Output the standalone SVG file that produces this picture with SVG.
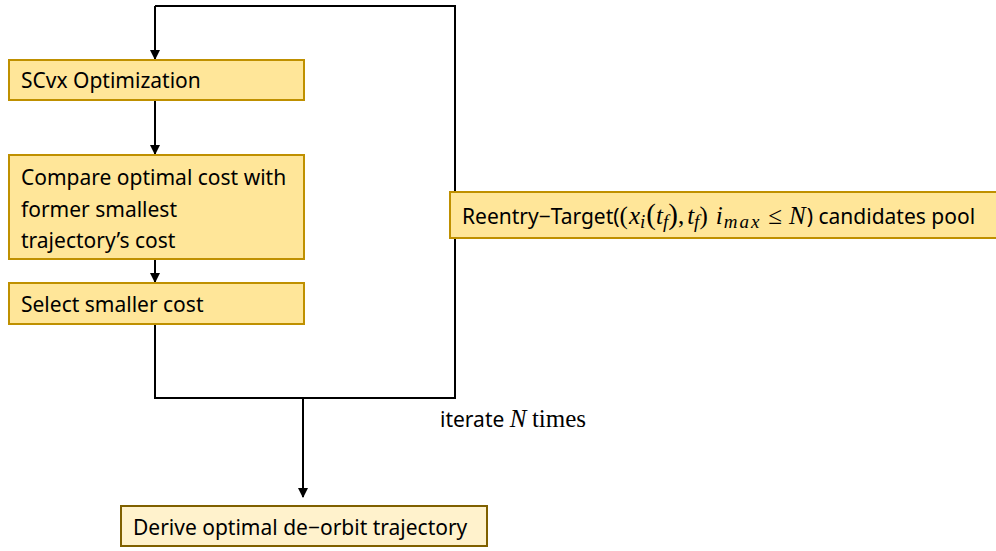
<svg xmlns="http://www.w3.org/2000/svg" width="996" height="551" viewBox="0 0 996 551">
<defs>
<style>
.box{fill:#FFE699;stroke:#BF9000;stroke-width:2}
.box2{fill:#FFF2CC;stroke:#7F6000;stroke-width:2}
.t{font-family:"Noto Sans","Liberation Sans",sans-serif;font-size:21px;fill:#000}
.m{font-family:"Liberation Serif",serif;font-style:italic;font-size:25px}
.s{font-family:"Liberation Serif",serif;font-style:italic;font-size:19px}
.mr{font-family:"Liberation Serif",serif;font-size:25px}
.bp{font-family:"Liberation Serif",serif;font-size:29px}
.ln{fill:none;stroke:#000;stroke-width:2}
</style>
<marker id="ah" markerWidth="10" markerHeight="10" refX="9" refY="5" orient="auto" markerUnits="userSpaceOnUse">
<path d="M0,0 L10,5 L0,10 Z" fill="#000"/>
</marker>
</defs>
<rect width="996" height="551" fill="#fff"/>
<g id="connectors">
<path class="ln" d="M155,6 H455 V398 H155 V324"/>
<path class="ln" d="M155,6 V59" marker-end="url(#ah)"/>
<path class="ln" d="M155,100 V154" marker-end="url(#ah)"/>
<path class="ln" d="M155,259 V282" marker-end="url(#ah)"/>
<path class="ln" d="M303,398 V497" marker-end="url(#ah)"/>
</g>
<g id="scvx">
<rect class="box" x="9" y="60" width="295" height="40"/>
<text class="t" x="21" y="88">SCvx Optimization</text>
</g>
<g id="compare">
<rect class="box" x="9" y="155" width="295" height="104"/>
<text class="t" x="21" y="185">Compare optimal cost with</text>
<text class="t" x="21" y="217">former smallest</text>
<text class="t" x="21" y="248">trajectory’s cost</text>
</g>
<g id="select">
<rect class="box" x="9" y="283" width="295" height="41"/>
<text class="t" x="21" y="312">Select smaller cost</text>
</g>
<g id="pool">
<rect class="box" x="450" y="192" width="560" height="46"/>
<text class="t" x="462" y="224">Reentry−Target(<tspan class="mr">(</tspan><tspan class="m" dx="1">x</tspan><tspan class="s" dy="4">i</tspan><tspan class="bp" dy="-4" dx="1">(</tspan><tspan class="m">t</tspan><tspan class="s" dy="4">f</tspan><tspan class="bp" dy="-4">)</tspan><tspan class="mr">,</tspan><tspan class="m" dx="3">t</tspan><tspan class="s" dy="4">f</tspan><tspan class="mr" dy="-4">)</tspan><tspan class="m" dx="8">i</tspan><tspan class="s" dy="4" dx="1" letter-spacing="2">max</tspan><tspan class="mr" dy="-4" dx="7">≤</tspan><tspan class="m" dx="7">N</tspan><tspan dx="1">) candidates pool</tspan></text>
</g>
<g id="iterate">
<text class="t" x="440" y="427">iterate <tspan class="m" font-size="22">N</tspan> <tspan class="mr" font-size="22">times</tspan></text>
</g>
<g id="derive">
<rect class="box2" x="121" y="506" width="366" height="40"/>
<text class="t" x="133" y="535">Derive optimal de−orbit trajectory</text>
</g>
</svg>
